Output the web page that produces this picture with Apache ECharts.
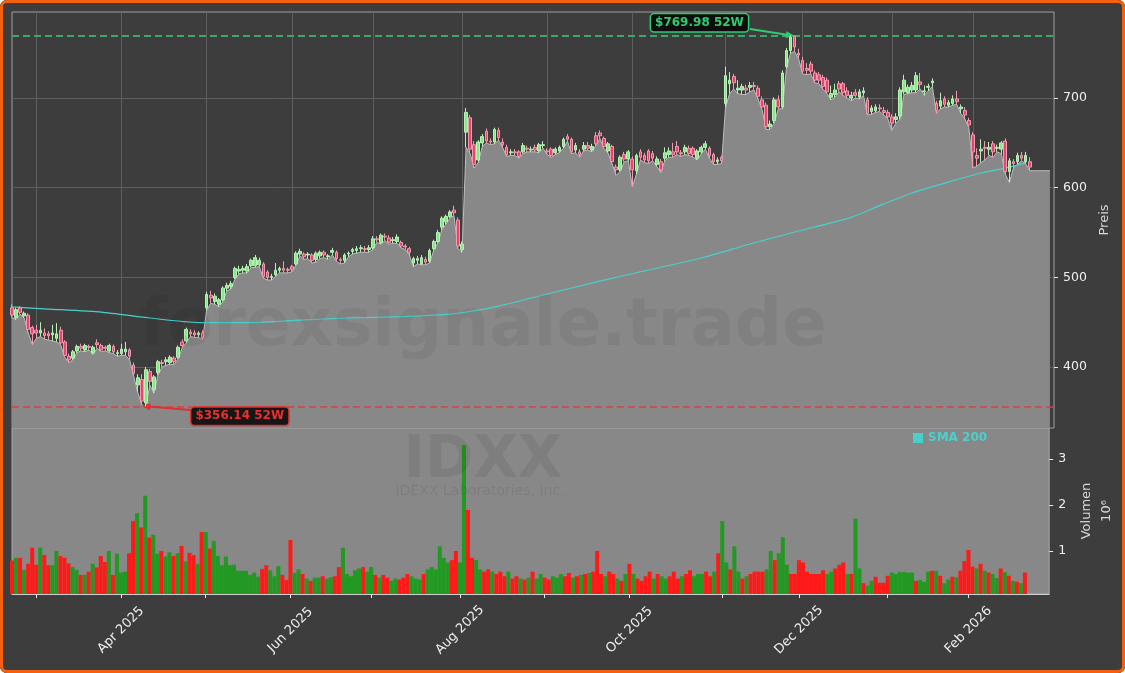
<!DOCTYPE html>
<html>
<head>
<meta charset="utf-8">
<title>IDXX</title>
<script src="https://cdn.jsdelivr.net/npm/echarts@6/dist/echarts.min.js"></script>
<style>
  html, body { margin: 0; padding: 0; background: #ffffff; }
  #chart { position: absolute; left: 0; top: 0; width: 1125px; height: 673px; background: #3d3d3d; border-radius: 7px; overflow: hidden; }
  #frame { position: absolute; left: 0; top: 0; width: 1125px; height: 673px; box-sizing: border-box;
           border: 3px solid #f5600f; border-radius: 7px; pointer-events: none; }
</style>
</head>
<body>
<div id="chart"></div>
<div id="frame"></div>
<script>
// trading days, Feb 21 2025 .. Mar 3 2026 (the last few are empty room on the right)
const holidays = ['2025-04-18', '2025-05-26', '2025-06-19', '2025-07-04', '2025-09-01',
                  '2025-11-27', '2025-12-25', '2026-01-01', '2026-01-19', '2026-02-16'];
const dates = [];
for (let t = Date.UTC(2025, 1, 21); t <= Date.UTC(2026, 2, 3); t += 864e5) {
  const d = new Date(t), wd = d.getUTCDay(), s = d.toISOString().slice(0, 10);
  if (wd > 0 && wd < 6 && holidays.indexOf(s) < 0) dates.push(s);
}

// [open, close, low, high]
const candles = [
  // Feb 2025
  [466,458,455,470],[455,464,453,466],[466,461,459,468],[457,460,455,462],[458,442,438,460],[444,437,425,446],
  // Mar
  [441,438,432,447],[438,441,434,450],[438,435,431,443],[437,435,430,440],[436,438,429,447],
  [432,437,428,449],[441,427,425,445],[428,413,411,430],[412,408,405,415],[410,417,408,419],
  [418,423,416,425],[423,421,418,426],[419,424,417,426],[423,422,419,425],[416,422,414,424],
  [427,425,421,431],[424,419,417,426],[422,421,418,424],[418,424,416,426],[423,417,415,425],
  [415,416,412,419],
  // Apr
  [415,420,413,426],[417,420,413,428],[419,412,408,421],[402,393,390,405],[380,388,372,392],
  [386,362,358,392],[360,397,356.14,400],[395,384,380,398],[375,389,371,391],[394,406,391,408],
  [405,404,400,408],[406,408,402,411],[405,411,403,413],[410,406,403,412],[411,422,409,424],
  [428,424,422,431],[429,442,427,444],[439,437,434,442],[438,436,433,441],[436,438,433,440],
  [438,433,431,441],
  // May
  [466,481,463,484],[480,477,471,485],[473,479,470,482],[470,475,467,477],[475,488,473,490],
  [488,491,485,494],[490,493,487,496],[500,510,498,512],[507,509,504,513],[508,510,505,513],
  [507,512,505,515],[513,519,511,521],[513,522,511,525],[514,519,512,522],[515,501,499,517],
  [506,500,497,508],[500,501,497,504],[503,508,501,516],[508,510,505,512],[510,508,505,518],
  [509,508,505,511],
  // Jun
  [512,509,506,514],[515,527,513,529],[526,529,524,532],[526,523,520,528],[525,526,521,528],
  [525,519,516,527],[520,527,517,529],[524,528,521,530],[528,525,522,530],[523,524,520,526],
  [528,530,525,533],[528,521,518,530],[520,519,515,522],[519,525,516,527],[526,527,523,529],
  [529,531,526,533],[530,532,527,535],[532,533,528,536],[532,531,528,535],[531,533,528,536],
  // Jul
  [533,543,531,546],[543,542,539,546],[539,547,537,549],[546,545,541,549],[544,539,537,547],
  [541,542,538,545],[540,545,538,548],[539,535,533,541],[535,534,531,537],[532,528,525,534],
  [516,521,512,523],[519,521,515,524],[515,522,514,525],[520,517,514,523],[518,530,516,532],
  [532,540,530,542],[540,550,538,553],[556,566,553,568],[562,568,559,570],[568,573,566,575],
  [575,572,569,580],[564,535,532,567],
  // Aug
  [531,537,528,540],[662,684,645,689],[678,643,638,681],[648,626,622,652],[631,651,628,653],
  [650,657,646,660],[663,652,650,666],[652,651,648,655],[651,665,649,667],[664,656,653,667],
  [651,648,645,655],[645,637,635,648],[639,640,636,643],[640,639,636,643],[640,635,633,642],
  [640,647,638,650],[644,643,640,647],[642,643,640,646],[645,642,640,648],[641,648,639,650],
  [647,648,644,652],
  // Sep
  [641,640,637,644],[643,636,634,645],[639,643,637,645],[641,645,639,647],[646,654,644,656],
  [657,654,652,660],[654,640,638,656],[642,647,639,650],[640,637,634,643],[643,647,641,651],
  [647,644,642,651],[642,646,640,649],[658,649,647,662],[661,658,655,664],[655,646,644,657],
  [641,649,639,651],[646,629,627,648],[623,620,614,626],[620,634,618,636],[637,632,629,640],
  [632,640,630,642],
  // Oct
  [632,620,601,635],[619,636,615,638],[640,634,631,643],[636,631,628,639],[641,630,627,643],
  [638,633,630,641],[626,632,624,635],[629,620,617,632],[633,639,630,645],[637,641,634,645],
  [640,637,634,650],[646,640,637,652],[639,638,635,642],[640,645,637,648],[644,638,636,647],
  [644,637,634,646],[633,641,631,643],[640,645,638,647],[645,649,643,652],[644,636,633,646],
  [637,629,626,639],[629,631,626,634],[634,630,627,636],
  // Nov
  [694,725,690,735],[716,720,705,729],[724,717,710,727],[709,711,705,720],[709,713,704,716],
  [711,709,704,715],[712,714,707,718],[714,713,709,718],[711,702,699,714],[698,690,687,702],
  [692,668,665,695],[668,671,665,675],[675,698,672,701],[698,690,688,703],[690,728,688,731],
  [735,753,733,756],[753,768,750,769.98],[769,757,752,769.5],[750,748,744,755],
  // Dec
  [742,730,727,746],[733,731,726,739],[738,730,727,741],[728,720,717,731],[726,720,716,729],
  [723,713,710,726],[720,707,705,723],[701,705,698,714],[704,709,701,716],[716,710,707,719],
  [716,706,703,718],[708,703,700,712],[700,703,697,707],[706,703,700,710],[701,707,699,710],
  [706,708,703,712],[698,683,681,701],[685,689,682,692],[686,690,684,693],[689,688,685,693],
  [686,684,681,690],[684,679,677,687],
  // Jan 2026
  [679,672,664,682],[676,679,672,683],[680,709,676,712],[707,720,704,726],[706,712,705,715],
  [709,714,706,718],[709,725,706,729],[718,715,710,728],[707,708,703,714],[712,713,708,716],
  [717,719,713,722],[694,686,683,697],[691,697,688,706],[699,693,690,702],[692,695,690,698],
  [694,699,692,703],[699,696,693,708],[688,690,683,693],[686,681,677,690],[675,670,667,678],
  // Feb 2026
  [659,640,622,662],[636,633,624,644],[641,643,628,654],[645,644,631,652],[643,645,636,651],
  [649,640,634,652],[644,645,640,648],[643,650,638,652],[652,618,615,655],[618,630,606,633],
  [629,627,622,632],[629,636,626,639],[636,633,630,640],[629,636,627,640],[629,623,619,634]
];

// volume in millions
const volumes = [
  0.79,0.85,0.85,0.59,0.72,1.07,0.70,1.07,0.91,0.69,
  0.69,1.00,0.89,0.85,0.73,0.65,0.59,0.48,0.48,0.55,
  0.72,0.64,0.89,0.76,1.00,0.48,0.94,0.53,0.55,0.95,
  1.65,1.82,1.51,2.20,1.29,1.35,0.94,1.00,0.88,0.97,
  0.89,0.95,1.11,0.77,0.96,0.91,0.72,1.41,1.41,1.05,
  1.22,0.89,0.69,0.88,0.69,0.70,0.57,0.57,0.57,0.48,
  0.53,0.44,0.61,0.69,0.58,0.45,0.67,0.48,0.37,1.24,
  0.52,0.60,0.50,0.40,0.35,0.42,0.42,0.45,0.40,0.43,
  0.45,0.65,1.07,0.50,0.45,0.58,0.62,0.65,0.55,0.65,
  0.48,0.42,0.48,0.42,0.35,0.40,0.38,0.42,0.50,0.45,
  0.40,0.38,0.50,0.60,0.65,0.60,1.10,0.85,0.75,0.80,
  1.00,0.75,3.30,1.89,0.85,0.80,0.60,0.55,0.60,0.55,
  0.50,0.55,0.45,0.55,0.40,0.45,0.40,0.38,0.42,0.55,
  0.40,0.50,0.42,0.38,0.45,0.42,0.50,0.45,0.52,0.42,
  0.45,0.48,0.50,0.52,0.55,1.00,0.50,0.45,0.55,0.50,
  0.40,0.35,0.50,0.72,0.50,0.40,0.35,0.45,0.55,0.40,
  0.50,0.45,0.40,0.45,0.55,0.40,0.45,0.50,0.58,0.45,
  0.50,0.50,0.55,0.45,0.55,0.95,1.65,0.75,0.60,1.10,
  0.55,0.40,0.45,0.50,0.55,0.55,0.55,0.60,1.00,0.80,
  0.95,1.30,0.70,0.50,0.50,0.80,0.75,0.55,0.50,0.50,
  0.50,0.58,0.50,0.55,0.62,0.70,0.75,0.50,0.50,1.70,
  0.62,0.30,0.25,0.35,0.44,0.31,0.31,0.46,0.53,0.50,
  0.54,0.54,0.53,0.53,0.35,0.37,0.33,0.55,0.57,0.57,
  0.46,0.30,0.38,0.44,0.43,0.57,0.78,1.02,0.66,0.62,
  0.72,0.57,0.53,0.50,0.41,0.62,0.54,0.46,0.35,0.33,
  0.30,0.53
];

// the low-fill runs flat a few days past the last candle
const lowTail = [619, 619, 619, 619, 619];

// SMA 200 at these trading-day positions
const smaIdx  = [0, 9, 22, 34, 46, 59, 71, 83, 96, 108, 113, 120, 133, 145, 157, 170, 182, 194, 207, 214, 222, 231, 239, 245, 250];
const smaVals = [467, 464.7, 461.3, 454.7, 449.6, 449.6, 452.4, 454.7, 456.3, 459.1, 462, 468, 482.6, 495.9,
                 508.2, 521.6, 537.2, 551.7, 567, 580, 594.1, 606.3, 616.4, 621.9, 627.5];

const priceTicks = [400, 500, 600, 700];
const volTicks = [1, 2, 3];

const MONTHS = ['Jan','Feb','Mar','Apr','May','Jun','Jul','Aug','Sep','Oct','Nov','Dec'];
const FONT = 'DejaVu Sans';
const n = candles.length;
const lows = candles.map(c => c[2]);
const highs = candles.map(c => c[3]);
const hi = Math.max.apply(null, highs), lo = Math.min.apply(null, lows);
const hiIdx = highs.indexOf(hi), loIdx = lows.indexOf(lo);

function monthStart(i) {
  return i > 0 && i < n && dates[i].slice(5, 7) !== dates[i - 1].slice(5, 7);
}
function labelMonth(i) {
  return monthStart(i) && (+dates[i].slice(5, 7)) % 2 === 0;
}

const chart = echarts.init(document.getElementById('chart'));
chart.setOption({
  animation: false,
  backgroundColor: '#3d3d3d',
  textStyle: { fontFamily: FONT },
  legend: {
    data: ['SMA 200'], left: 913, top: 432, padding: 0,
    icon: 'rect', itemWidth: 10, itemHeight: 10, selectedMode: false,
    textStyle: { color: '#48d1cc', fontWeight: 'bold', fontSize: 12, fontFamily: FONT }
  },
  graphic: [
    { type: 'text', x: 483, y: 328, z: 100, silent: true,
      style: { text: 'forexsignale.trade', fontSize: 66, fontWeight: 'bold', fontFamily: FONT,
               fill: 'rgba(0,0,0,0.06)', align: 'center', verticalAlign: 'middle' } },
    { type: 'text', x: 483, y: 462, z: 100, silent: true,
      style: { text: 'IDXX', fontSize: 58, fontWeight: 'bold', fontFamily: FONT,
               fill: 'rgba(0,0,0,0.07)', align: 'center', verticalAlign: 'middle' } },
    { type: 'text', x: 480, y: 491, z: 100, silent: true,
      style: { text: 'IDEXX Laboratories, Inc.', fontSize: 14, fontFamily: FONT,
               fill: 'rgba(0,0,0,0.08)', align: 'center', verticalAlign: 'middle' } }
  ],
  grid: [
    { left: 12, right: 71, top: 12, height: 416, show: true, borderColor: '#a0a0a0', borderWidth: 1 },
    { left: 12, right: 71, top: 428, height: 166, show: true, backgroundColor: '#888888',
      borderColor: '#a8a8a8', borderWidth: 1 }
  ],
  xAxis: [
    { type: 'category', gridIndex: 0, data: dates, boundaryGap: false,
      axisLine: { show: false }, axisTick: { show: false }, axisLabel: { show: false },
      splitLine: { show: true, interval: (i) => monthStart(i), lineStyle: { color: '#5e5e5e', width: 1 } } },
    { type: 'category', gridIndex: 1, data: dates, boundaryGap: false,
      axisLine: { show: true, lineStyle: { color: '#d0d0d0', width: 1 } },
      axisTick: { show: true, interval: (i) => monthStart(i), length: 4, lineStyle: { color: '#e8e8e8' } },
      axisLabel: { show: true, interval: (i) => labelMonth(i), rotate: 45, margin: 36,
        align: 'center', verticalAlign: 'middle', color: '#eeeeee', fontSize: 13, fontFamily: FONT,
        formatter: (v) => MONTHS[+v.slice(5, 7) - 1] + ' ' + v.slice(0, 4) },
      splitLine: { show: false } }
  ],
  yAxis: [
    { type: 'value', gridIndex: 0, position: 'right', min: 332, max: 796,
      name: 'Preis', nameLocation: 'middle', nameGap: 42, nameRotate: 90,
      nameTextStyle: { color: '#d8d8d8', fontSize: 13, fontFamily: FONT },
      axisLine: { show: false },
      axisTick: { show: true, customValues: priceTicks, length: 4, lineStyle: { color: '#e8e8e8' } },
      axisLabel: { customValues: priceTicks, color: '#eeeeee', fontSize: 12.5, margin: 9, fontFamily: FONT },
      splitLine: { show: true, lineStyle: { color: '#5e5e5e', width: 1 } } },
    { type: 'value', gridIndex: 1, position: 'right', min: 0.065, max: 3.67,
      name: 'Volumen\n10⁶', nameLocation: 'middle', nameGap: 22, nameRotate: 90,
      nameTextStyle: { color: '#d8d8d8', fontSize: 13, lineHeight: 20, fontFamily: FONT },
      axisLine: { show: false },
      axisTick: { show: true, customValues: volTicks, length: 4, lineStyle: { color: '#e8e8e8' } },
      axisLabel: { customValues: volTicks, color: '#eeeeee', fontSize: 12.5, margin: 9, fontFamily: FONT },
      splitLine: { show: false } }
  ],
  series: [
    {
      name: 'low', type: 'line', xAxisIndex: 0, yAxisIndex: 0, z: 2,
      data: lows.concat(lowTail), symbol: 'none', silent: true,
      lineStyle: { color: '#bdbdbd', width: 1 },
      areaStyle: { color: '#888888', opacity: 1 }
    },
    {
      name: 'SMA 200', type: 'line', xAxisIndex: 0, yAxisIndex: 0, z: 4,
      data: smaIdx.map((x, k) => [x, smaVals[k]]), symbol: 'none', smooth: 0.2,
      lineStyle: { color: '#48d1cc', width: 1.2 }, itemStyle: { color: '#48d1cc' }, silent: true
    },
    {
      name: 'IDXX', type: 'candlestick', xAxisIndex: 0, yAxisIndex: 0, z: 5,
      data: candles, barWidth: 3.2,
      itemStyle: { color: '#86e886', color0: '#e5476a', borderColor: '#b8f0b8', borderColor0: '#f19ab0', borderWidth: 1 },
      markLine: {
        silent: true, symbol: 'none', animation: false, label: { show: false },
        data: [
          { yAxis: hi, lineStyle: { color: '#3ca867', type: [7, 4], width: 1.8 } },
          { yAxis: lo, lineStyle: { color: '#d94040', type: [7, 4], width: 1.6 } },
          [ { coord: [hiIdx - 10, hi + 7], symbol: 'none', lineStyle: { color: '#2ecc71', width: 2, type: 'solid' } },
            { coord: [hiIdx, hi], symbol: 'triangle', symbolSize: [7, 9], lineStyle: { color: '#2ecc71', width: 2, type: 'solid' } } ],
          [ { coord: [loIdx + 11, lo - 4], symbol: 'none', lineStyle: { color: '#e03030', width: 2, type: 'solid' } },
            { coord: [loIdx, lo], symbol: 'triangle', symbolSize: [7, 9], lineStyle: { color: '#e03030', width: 2, type: 'solid' } } ]
        ]
      },
      markPoint: {
        silent: true, animation: false, symbol: 'rect', symbolSize: 0,
        data: [
          { coord: [hiIdx, hi], label: { show: true, position: 'inside', offset: [-91, -12.5],
              formatter: '$' + hi.toFixed(2) + ' 52W', color: '#2ecc71', fontWeight: 'bold', fontSize: 12,
              fontFamily: FONT, backgroundColor: '#0d0d0d', borderColor: '#2ecc71', borderWidth: 1.5,
              borderRadius: 3, padding: [3, 4, 2, 4] } },
          { coord: [loIdx, lo], label: { show: true, position: 'inside', offset: [94, 10],
              formatter: '$' + lo.toFixed(2) + ' 52W', color: '#e8302f', fontWeight: 'bold', fontSize: 12,
              fontFamily: FONT, backgroundColor: '#161616', borderColor: '#e03030', borderWidth: 1.5,
              borderRadius: 3, padding: [3, 4, 2, 4] } }
        ]
      }
    },
    {
      name: 'Volumen', type: 'bar', xAxisIndex: 1, yAxisIndex: 1, barCategoryGap: '0%',
      silent: true,
      data: volumes.map((v, i) => ({
        value: v,
        itemStyle: { color: candles[i][1] >= candles[i][0] ? '#229922' : '#ff1a1a' }
      }))
    }
  ]
});
</script>
</body>
</html>
